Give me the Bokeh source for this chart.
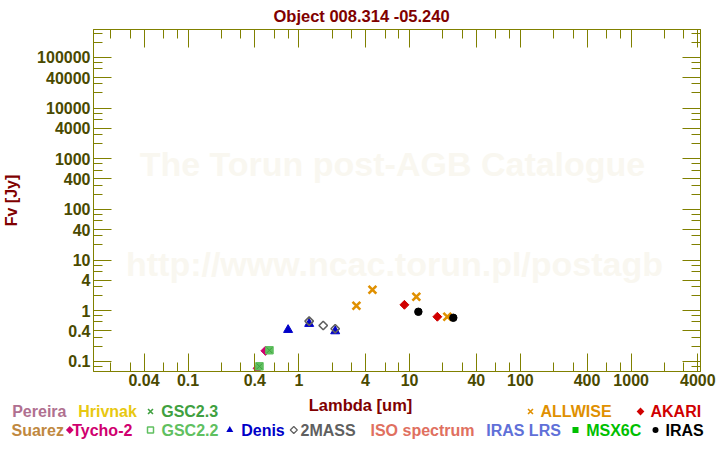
import math
from bokeh.plotting import figure
from bokeh.models import FixedTicker, LogAxis, Label, CustomJSTickFormatter, Range1d, ColumnDataSource
from bokeh.layouts import column
from bokeh.core.properties import value
from bokeh.embed import file_html
from bokeh.resources import INLINE

# ---------------- data ----------------
title_text = "Object 008.314 -05.240"
x_label = "Lambda [um]"
y_label = "Fv [Jy]"

x_tick_values = [0.04, 0.1, 0.4, 1, 4, 10, 40, 100, 400, 1000, 4000]
y_tick_values = [0.1, 0.4, 1, 4, 10, 40, 100, 400, 1000, 4000, 10000, 40000, 100000]

tycho_wl = [0.50, 0.425]
tycho_fv = [0.162, 0.073]
gsc22_wl = [0.543, 0.441]
gsc22_fv = [0.166, 0.080]
gsc23_wl = [0.543, 0.441]
gsc23_fv = [0.166, 0.080]
denis_wl = [0.80, 1.24, 2.13]
denis_fv = [0.42, 0.553, 0.395]
twomass_wl = [1.24, 1.66, 2.13]
twomass_fv = [0.623, 0.512, 0.441]
allwise_wl = [3.31, 4.62, 11.5, 21.9]
allwise_fv = [1.256, 2.60, 1.89, 0.761]
akari_wl = [8.98, 17.8]
akari_fv = [1.31, 0.761]
iras_wl = [12.0, 24.8]
iras_fv = [0.955, 0.727]

watermark_1 = "The Torun post-AGB Catalogue"
watermark_2 = "http://www.ncac.torun.pl/postagb"

legend_row1 = ["Pereira", "Hrivnak", "GSC2.3", "ALLWISE", "AKARI"]
legend_row2 = ["Suarez", "Tycho-2", "GSC2.2", "Denis", "2MASS", "ISO spectrum",
               "IRAS LRS", "MSX6C", "IRAS"]

# ---------------- styling ----------------
OLIVE = "#808000"
TICK_TXT = "#4a4a00"
DARKRED = "#800000"
FONT = "Liberation Sans"

W = 720
MAIN_H = 395
FL, FT, FB = 92, 29, 371  # frame left / top / bottom in canvas pixels


def minor_for(lo_exp, hi_exp):
    out = []
    for e in range(lo_exp, hi_exp + 1):
        for m in (2, 3, 6, 8):
            out.append(m * 10.0 ** e)
    return out


p = figure(width=W, height=MAIN_H, x_axis_type="log", y_axis_type="log",
           x_range=(0.0140, 4230), y_range=(0.0632, 357000),
           output_backend="svg", toolbar_location=None, title=title_text,
           min_border_left=FL, min_border_right=20, min_border_top=FT,
           min_border_bottom=MAIN_H - FB)
p.frame_align = False
p.grid.visible = False
p.outline_line_color = OLIVE
p.outline_line_width = 1
p.background_fill_color = "white"
p.border_fill_color = "white"

p.title.align = "left"
p.title.offset = 180
p.title.text_font = FONT
p.title.text_font_style = "bold"
p.title.text_font_size = "16.5px"
p.title.text_color = DARKRED
p.title.standoff = 9


def style_axis(ax, ticks, minors, labels=True):
    ax.ticker = FixedTicker(ticks=ticks, minor_ticks=minors)
    ax.axis_line_color = OLIVE
    ax.major_tick_line_color = OLIVE
    ax.minor_tick_line_color = OLIVE
    ax.major_tick_in = 18
    ax.major_tick_out = 0
    ax.minor_tick_in = 9
    ax.minor_tick_out = 0
    ax.axis_label = None
    if labels:
        ax.formatter = CustomJSTickFormatter(code="return tick.toString();")
        ax.major_label_text_font = FONT
        ax.major_label_text_font_style = "bold"
        ax.major_label_text_font_size = "16px"
        ax.major_label_text_color = TICK_TXT
    else:
        ax.formatter = CustomJSTickFormatter(code="return '';")
        ax.major_label_text_font_size = "1px"
        ax.major_label_standoff = 0


xminor = minor_for(-2, 3)
yminor = minor_for(-2, 5)

style_axis(p.xaxis[0], x_tick_values, xminor)
p.xaxis[0].major_label_standoff = 2
style_axis(p.yaxis[0], y_tick_values, yminor)
p.yaxis[0].major_label_standoff = 3
p.yaxis[0].axis_label = y_label
p.yaxis[0].axis_label_text_font = FONT
p.yaxis[0].axis_label_text_font_style = "bold"
p.yaxis[0].axis_label_text_font_size = "16px"
p.yaxis[0].axis_label_text_color = DARKRED
p.yaxis[0].axis_label_standoff = 14

top_ax = LogAxis()
style_axis(top_ax, x_tick_values, xminor, labels=False)
p.add_layout(top_ax, "above")
right_ax = LogAxis()
style_axis(right_ax, y_tick_values, yminor, labels=False)
p.add_layout(right_ax, "right")

# watermark (inside the frame)
for txt, cx, cy in ((watermark_1, 391, 163), (watermark_2, 393, 263)):
    p.add_layout(Label(x=cx - FL, y=FB - cy, x_units="screen", y_units="screen",
                       text=txt, text_color="#f9f7f0", text_font_size="34px",
                       text_font=FONT, text_font_style="bold", text_align="center",
                       text_baseline="middle", level="underlay"))

# data markers
p.scatter(tycho_wl, tycho_fv, marker="square", angle=math.pi / 4, size=6.5,
          fill_color="#d0006f", line_color="#d0006f")
p.scatter(gsc22_wl, gsc22_fv, marker="square", size=7.5,
          fill_color="#60c060", line_color="#60c060", line_width=1)
p.scatter(gsc23_wl, gsc23_fv, marker="x", size=8,
          line_color="#40a040", line_width=1)
p.scatter(denis_wl, denis_fv, marker="triangle", size=9,
          fill_color="#0000c8", line_color="#0000c8")
p.scatter(twomass_wl, twomass_fv, marker="square", angle=math.pi / 4, size=6,
          fill_color=None, line_color="#606060", line_width=1.6)
p.scatter(allwise_wl, allwise_fv, marker="x", size=11,
          line_color="#e09000", line_width=2.6)
p.scatter(akari_wl, akari_fv, marker="square", angle=math.pi / 4, size=6.3,
          fill_color="#d00000", line_color="#d00000")
p.scatter(iras_wl, iras_fv, marker="circle", size=7.5,
          fill_color="black", line_color="black")

# ---------------- bottom strip: x label and legend ----------------
BOT_H = 450 - MAIN_H
b = figure(width=W, height=BOT_H, x_range=Range1d(0, W), y_range=Range1d(BOT_H, 0),
           output_backend="svg", toolbar_location=None, title=None,
           x_axis_location=None, y_axis_location=None,
           min_border=0, min_border_left=0, min_border_right=0,
           min_border_top=0, min_border_bottom=0)
b.frame_align = False
b.grid.visible = False
b.outline_line_color = None
b.background_fill_color = "white"
b.border_fill_color = "white"


def by(cy):
    return cy - MAIN_H


# x axis label
b.text(x=[360], y=[by(404)], text=[x_label], text_color=DARKRED,
       text_font=value(FONT), text_font_style="bold", text_font_size="16.5px",
       text_align="center", text_baseline="middle")

R1, R2 = 411, 429.5
row1_x = [11.7, 77.7, 160.7, 540, 650]
row1_c = ["#b07090", "#e8c810", "#40a040", "#e09000", "#d00000"]
row2_x = [11, 71.7, 161, 240.7, 300, 370, 485.7, 585.7, 665]
row2_c = ["#c08840", "#d0006f", "#60c060", "#0000c8", "#606060", "#e07060",
          "#6070d8", "#00c000", "#000000"]
src = ColumnDataSource(dict(
    x=row1_x + row2_x,
    y=[by(R1)] * len(row1_x) + [by(R2)] * len(row2_x),
    t=legend_row1 + legend_row2,
    c=row1_c + row2_c))
b.text(x="x", y="y", text="t", text_color="c", source=src,
       text_font=value(FONT), text_font_style="bold", text_font_size="16px",
       text_align="left", text_baseline="middle")

# legend symbols
b.scatter([150, 530], [by(R1), by(R1)], marker="x", size=7,
          line_color=["#40a040", "#e09000"], line_width=1.6)
b.scatter([640, 69.3], [by(R1), by(R2)], marker="square", angle=math.pi / 4, size=5.5,
          fill_color=["#d00000", "#d0006f"], line_color=None)
b.scatter([150], [by(R2)], marker="square", size=6, fill_color=None,
          line_color="#60c060", line_width=1.5)
b.scatter([229.3], [by(R2)], marker="triangle", size=7, fill_color="#0000c8",
          line_color=None)
b.scatter([293.3], [by(R2)], marker="square", angle=math.pi / 4, size=5,
          fill_color=None, line_color="#606060", line_width=1.2)
b.scatter([575], [by(R2)], marker="square", size=6, fill_color="#00c000",
          line_color=None)
b.scatter([655], [by(R2)], marker="circle", size=6, fill_color="#000000",
          line_color=None)

layout = column(p, b, spacing=0)
open("out.html", "w").write(file_html(layout, INLINE))
